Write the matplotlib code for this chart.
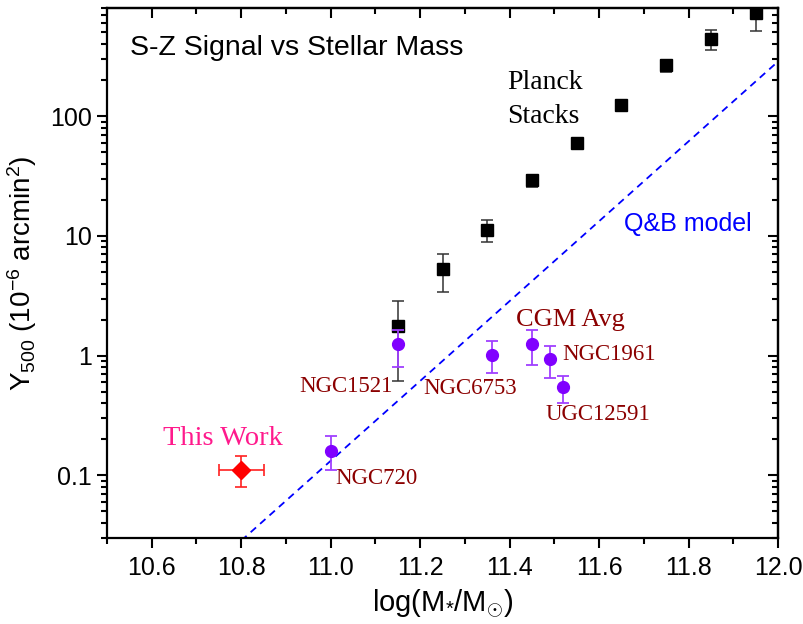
import numpy as np
import matplotlib.pyplot as plt
from matplotlib.ticker import FixedLocator, LogLocator, MultipleLocator, NullFormatter

plt.rcParams['font.family'] = ['Liberation Sans', 'DejaVu Sans']
plt.rcParams['mathtext.fontset'] = 'custom'
plt.rcParams['mathtext.rm'] = 'Liberation Sans'
plt.rcParams['mathtext.it'] = 'Liberation Sans:italic'
plt.rcParams['mathtext.bf'] = 'Liberation Sans:bold'

# Planck stacked tSZ measurements
planck_x = [11.15, 11.25, 11.35, 11.45, 11.55, 11.65, 11.75, 11.85, 11.95]
planck_y = [1.76, 5.3, 11.2, 29.4, 60.0, 123, 267, 440, 720]
planck_lo = [0.61, 3.43, 8.85, 25.5, 57.0, 112, 232, 360, 510]
planck_hi = [2.84, 7.08, 13.6, 32.0, 63.0, 134, 292, 520, 950]

# individual galaxies and the CGM average
gal_names = ['NGC1521', 'NGC720', 'NGC6753', 'CGM Avg', 'NGC1961', 'UGC12591']
gal_x = [11.15, 11.0, 11.36, 11.45, 11.49, 11.52]
gal_y = [1.24, 0.16, 1.02, 1.26, 0.94, 0.55]
gal_lo = [0.81, 0.11, 0.72, 0.84, 0.65, 0.40]
gal_hi = [1.63, 0.212, 1.32, 1.65, 1.21, 0.68]
gal_label_x = [11.035, 11.102, 11.312, 11.535, 11.622, 11.598]
gal_label_y = [0.555, 0.094, 0.533, 1.97, 1.03, 0.324]
gal_label_size = [16.5, 16.5, 16.5, 19, 16.5, 16.5]

# this work
tw_x, tw_xerr = 10.8, 0.05
tw_y, tw_lo, tw_hi = 0.112, 0.080, 0.144

# Q&B model line
qb_x = [10.8, 12.0]
qb_y = [0.0285, 286]

fig = plt.figure(figsize=(8.04, 6.24), dpi=100)
ax = fig.add_axes([0.1331, 0.1378, 0.8346, 0.8494])

ax.plot(qb_x, qb_y, color='#0000FF', ls=(0, (4, 3)), lw=1.3, zorder=1)

py = np.array(planck_y)
ax.errorbar(planck_x, planck_y,
            yerr=[py - np.array(planck_lo), np.array(planck_hi) - py],
            fmt='s', color='black', ms=8.5, ecolor='#333333', elinewidth=1.1,
            capsize=4, capthick=1.1, zorder=3)

gy = np.array(gal_y)
ax.errorbar(gal_x, gal_y,
            yerr=[gy - np.array(gal_lo), np.array(gal_hi) - gy],
            fmt='o', color='#8000FF', ms=8.5, ecolor='#A040FF', elinewidth=1.3,
            capsize=4, capthick=1.3, zorder=4)

ax.errorbar([tw_x], [tw_y], xerr=[[tw_xerr], [tw_xerr]],
            yerr=[[tw_y - tw_lo], [tw_hi - tw_y]],
            fmt='D', color='#FF0000', ms=9.5, ecolor='#FF2020', elinewidth=1.2,
            capsize=4, capthick=1.2, zorder=5)

for name, lx, ly, fs in zip(gal_names, gal_label_x, gal_label_y, gal_label_size):
    ax.text(lx, ly, name, family='Liberation Serif', fontsize=fs, color='#8B0000',
            ha='center', va='center')

ax.text(10.759, 0.205, 'This Work', family='Liberation Serif', fontsize=20.5,
        color='#FF1A8C', ha='center', va='center')
ax.text(11.394, 138, 'Planck\nStacks', family='Liberation Serif', fontsize=20,
        color='black', ha='left', va='center', linespacing=1.5)
ax.text(11.798, 12.6, 'Q&B model', fontsize=18, color='#0000FF',
        ha='center', va='center')
ax.text(0.034, 0.925, 'S-Z Signal vs Stellar Mass', fontsize=20.5,
        transform=ax.transAxes, ha='left', va='center')

ax.set_yscale('log')
ax.set_xlim(10.5, 12.0)
ax.set_ylim(0.03, 800)

ax.xaxis.set_major_locator(MultipleLocator(0.2))
ax.xaxis.set_minor_locator(MultipleLocator(0.1))
ax.xaxis.set_major_formatter(plt.FuncFormatter(lambda v, p: f'{v:.1f}'))
ax.yaxis.set_major_locator(FixedLocator([0.1, 1, 10, 100]))
ax.yaxis.set_major_formatter(plt.FuncFormatter(lambda v, p: f'{v:g}'))
ax.yaxis.set_minor_locator(LogLocator(base=10, subs=np.arange(2, 10)))
ax.yaxis.set_minor_formatter(NullFormatter())

ax.tick_params(which='major', direction='out', length=7, width=1.5, labelsize=18)
ax.tick_params(axis='x', which='major', pad=6)
ax.tick_params(axis='y', which='major', pad=4)
ax.tick_params(which='minor', direction='out', length=4, width=1.5)
for s in ax.spines.values():
    s.set_linewidth(1.6)

# inward ticks on the top and right edges
top = ax.secondary_xaxis('top')
top.xaxis.set_major_locator(MultipleLocator(0.2))
top.xaxis.set_minor_locator(MultipleLocator(0.1))
top.tick_params(which='major', direction='in', length=7, width=1.5, labeltop=False)
top.tick_params(which='minor', direction='in', length=4, width=1.5)
top.spines['top'].set_linewidth(1.6)

right = ax.secondary_yaxis('right')
right.yaxis.set_major_locator(FixedLocator([0.1, 1, 10, 100]))
right.yaxis.set_minor_locator(LogLocator(base=10, subs=np.arange(2, 10)))
right.yaxis.set_minor_formatter(NullFormatter())
right.tick_params(which='major', direction='in', length=7, width=1.5, labelright=False)
right.tick_params(which='minor', direction='in', length=4, width=1.5)
right.spines['right'].set_linewidth(1.6)

ax.set_xlabel(r'log(M$_{*}$/M$_{\odot}$)', fontsize=21, labelpad=5)
ax.set_ylabel(r'Y$_{500}$ (10$^{-6}$ arcmin$^{2}$)', fontsize=20, labelpad=8)

fig.savefig('out.png', dpi=100)
